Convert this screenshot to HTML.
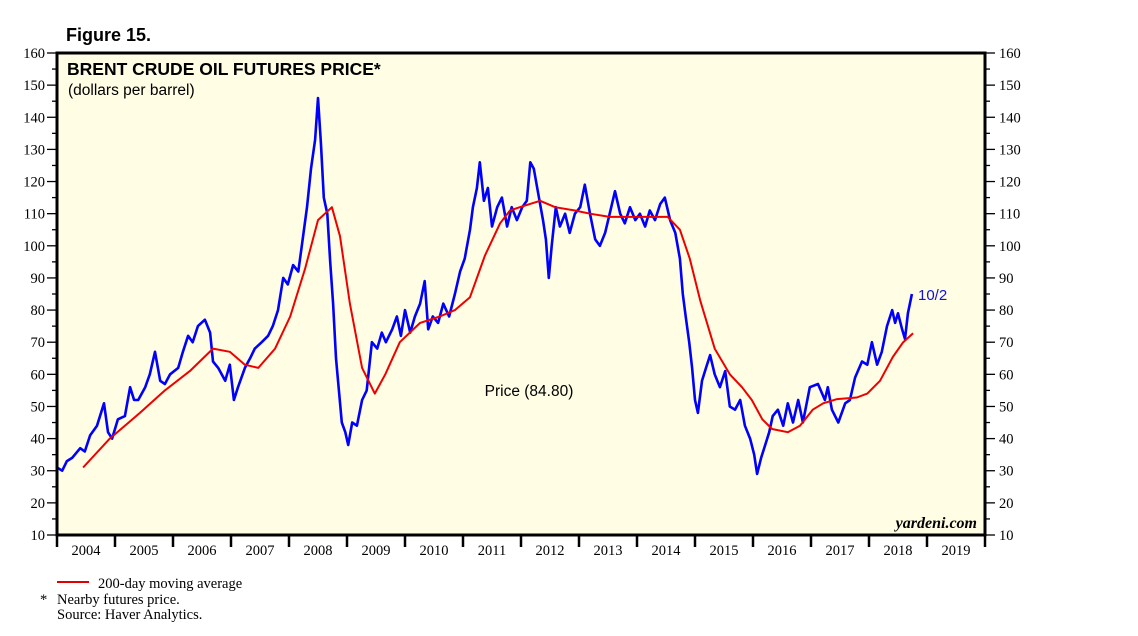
<!DOCTYPE html>
<html><head><meta charset="utf-8"><style>
body{margin:0;background:#fff;}
svg{display:block;font-family:"Liberation Serif",serif;}
</style></head><body>
<svg id="c" width="1138" height="636">
<text x="66" y="41" font-family="Liberation Sans" font-weight="bold" font-size="18">Figure 15.</text>
<rect x="57" y="53" width="928" height="482" fill="#fffde4"/>
<g id="axes"></g>
<g id="series"></g>
<rect x="57" y="53" width="928" height="482" fill="none" stroke="#000" stroke-width="3"/>
<text x="67" y="75" font-family="Liberation Sans" font-weight="bold" font-size="17.5">BRENT CRUDE OIL FUTURES PRICE*</text>
<text x="68" y="95" font-family="Liberation Sans" font-size="15.5">(dollars per barrel)</text>
<text x="529" y="396" text-anchor="middle" font-family="Liberation Sans" font-size="15.5">Price (84.80)</text>
<text x="918" y="300" font-family="Liberation Sans" font-size="15" fill="#1010e0">10/2</text>
<text x="977" y="528" text-anchor="end" font-style="italic" font-weight="bold" font-size="16">yardeni.com</text>
<line x1="57" y1="582" x2="89" y2="582" stroke="#e00000" stroke-width="2"/>
<text x="98" y="588" font-size="14.5">200-day moving average</text>
<text x="40" y="604" font-size="14.5">*</text>
<text x="57" y="604" font-size="14.5">Nearby futures price.</text>
<text x="57" y="619" font-size="14.5">Source: Haver Analytics.</text>
</svg>
<script>
const priceDates=[2004.00,2004.09,2004.17,2004.26,2004.40,2004.48,2004.57,2004.69,2004.81,2004.88,2004.95,2005.05,2005.17,2005.26,2005.33,2005.40,2005.52,2005.60,2005.69,2005.78,2005.86,2005.95,2006.09,2006.17,2006.26,2006.34,2006.43,2006.55,2006.64,2006.69,2006.78,2006.90,2006.98,2007.05,2007.12,2007.24,2007.33,2007.41,2007.53,2007.64,2007.72,2007.81,2007.90,2007.98,2008.07,2008.16,2008.22,2008.31,2008.38,2008.45,2008.50,2008.55,2008.60,2008.66,2008.71,2008.76,2008.81,2008.86,2008.91,2008.97,2009.02,2009.09,2009.17,2009.26,2009.34,2009.43,2009.52,2009.60,2009.67,2009.78,2009.86,2009.93,2010.00,2010.09,2010.17,2010.26,2010.34,2010.40,2010.48,2010.57,2010.66,2010.76,2010.86,2010.95,2011.03,2011.12,2011.17,2011.24,2011.29,2011.36,2011.43,2011.50,2011.59,2011.67,2011.76,2011.84,2011.93,2012.02,2012.10,2012.16,2012.22,2012.29,2012.38,2012.43,2012.48,2012.53,2012.60,2012.67,2012.76,2012.84,2012.93,2013.02,2013.10,2013.19,2013.28,2013.36,2013.45,2013.53,2013.62,2013.71,2013.79,2013.88,2013.97,2014.05,2014.14,2014.22,2014.31,2014.40,2014.48,2014.57,2014.66,2014.74,2014.79,2014.84,2014.90,2014.95,2015.00,2015.05,2015.12,2015.19,2015.26,2015.34,2015.43,2015.52,2015.60,2015.69,2015.78,2015.86,2015.95,2016.02,2016.07,2016.14,2016.21,2016.28,2016.34,2016.43,2016.52,2016.60,2016.69,2016.78,2016.86,2016.98,2017.12,2017.24,2017.29,2017.36,2017.47,2017.59,2017.67,2017.76,2017.88,2017.97,2018.05,2018.14,2018.22,2018.31,2018.40,2018.45,2018.50,2018.57,2018.62,2018.67,2018.74];
const priceValues=[31,30,33,34,37,36,41,44,51,42,40,46,47,56,52,52,56,60,67,58,57,60,62,67,72,70,75,77,73,64,62,58,63,52,56,62,65,68,70,72,75,80,90,88,94,92,100,112,124,133,146,132,115,110,95,82,65,55,45,42,38,45,44,52,55,70,68,73,70,74,78,72,80,73,78,82,89,74,78,76,82,78,85,92,96,105,112,118,126,114,118,106,112,115,106,112,108,112,114,126,124,117,108,102,90,100,112,106,110,104,110,112,119,110,102,100,104,110,117,110,107,112,108,110,106,111,108,113,115,108,104,96,85,78,70,62,52,48,58,62,66,60,56,61,50,49,52,44,40,35,29,34,38,42,47,49,44,51,45,52,45,56,57,52,56,49,45,51,52,59,64,63,70,63,67,75,80,76,79,74,71,79,85];
const maDates=[2004.45,2004.91,2005.43,2005.86,2006.29,2006.69,2006.98,2007.24,2007.47,2007.76,2008.02,2008.28,2008.50,2008.74,2008.88,2009.05,2009.26,2009.48,2009.66,2009.91,2010.26,2010.60,2010.86,2011.12,2011.38,2011.64,2011.81,2011.98,2012.33,2012.59,2012.93,2013.19,2013.53,2013.88,2014.22,2014.53,2014.74,2014.91,2015.09,2015.34,2015.60,2015.81,2015.98,2016.16,2016.33,2016.60,2016.81,2017.03,2017.21,2017.45,2017.79,2017.97,2018.19,2018.41,2018.59,2018.76];
const maValues=[31,40,48,55,61,68,67,63,62,68,78,93,108,112,103,82,62,54,60,70,76,78,80,84,97,107,111,112,114,112,111,110,109,109,109,109,105,96,83,68,60,56,52,46,43,42,44,49,51,52.3,52.8,54,58,65.4,70,72.8];
const yTicks=[10,20,30,40,50,60,70,80,90,100,110,120,130,140,150,160];
const yearLabels=["2004","2005","2006","2007","2008","2009","2010","2011","2012","2013","2014","2015","2016","2017","2018","2019"];
const NS="http://www.w3.org/2000/svg";
const X0=57,X1=985,Y0=535,Y1=53;
const xs=t=>X0+(t-2004)/16*(X1-X0);
const ys=v=>Y0-(v-10)/150*(Y0-Y1);
function mk(tag,attrs,parent){const e=document.createElementNS(NS,tag);for(const k in attrs)e.setAttribute(k,attrs[k]);parent.appendChild(e);return e;}
const ax=document.getElementById('axes');
for(let v=10;v<=160;v+=5){
  const major=v%10===0,y=ys(v),len=major?10:5;
  const l1=mk('line',{x1:X0-len,x2:X0,y1:y,y2:y,stroke:'#000','stroke-width':1.3},ax);
  
  
  const l2=mk('line',{x1:X1,x2:X1+len,y1:y,y2:y,stroke:'#000','stroke-width':1.3},ax);
  
  
}
yTicks.forEach(v=>{
  const y=ys(v)+5;
  const t1=mk('text',{x:45,y:y,'text-anchor':'end','font-size':14.5},ax);t1.textContent=v;
  
  
  const t2=mk('text',{x:999,y:y,'font-size':14.5},ax);t2.textContent=v;
  
  
});
for(let i=0;i<=yearLabels.length;i++){
  const x=xs(2004+i);
  const l=mk('line',{x1:x,x2:x,y1:Y0,y2:Y0+12,stroke:'#000','stroke-width':2.5},ax);
  
  
}
yearLabels.forEach((s,i)=>{
  const t=mk('text',{x:xs(2004.5+i),y:555,'text-anchor':'middle','font-size':14.5},ax);t.textContent=s;
  
  
});
const sg=document.getElementById('series');
const pp=priceDates.map((d,i)=>xs(d).toFixed(1)+','+ys(priceValues[i]).toFixed(1)).join(' ');
const pl=mk('polyline',{points:pp,fill:'none',stroke:'#0000ff','stroke-width':2.6,'stroke-linejoin':'round'},sg);


const mp=maDates.map((d,i)=>xs(d).toFixed(1)+','+ys(maValues[i]).toFixed(1)).join(' ');
const ml=mk('polyline',{points:mp,fill:'none',stroke:'#ee0000','stroke-width':2,'stroke-linejoin':'round'},sg);


</script>
</body></html>
